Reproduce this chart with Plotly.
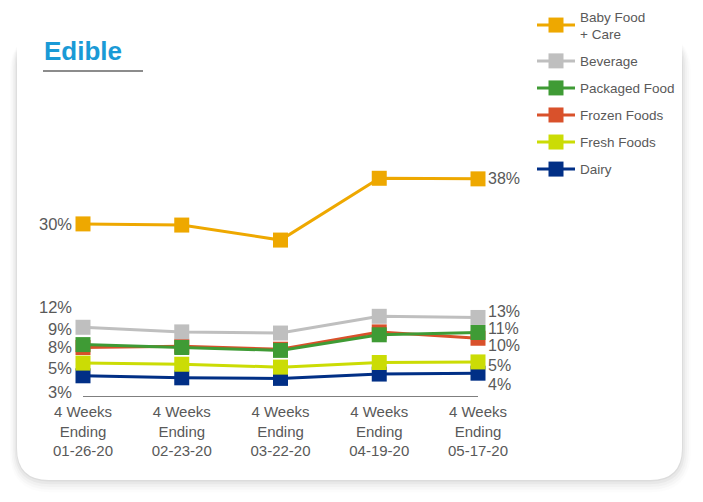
import plotly.graph_objects as go

# ---------------- data ----------------
categories = ["4 Weeks<br>Ending<br>01-26-20", "4 Weeks<br>Ending<br>02-23-20",
              "4 Weeks<br>Ending<br>03-22-20", "4 Weeks<br>Ending<br>04-19-20",
              "4 Weeks<br>Ending<br>05-17-20"]

baby_food = [29.8, 29.6, 27.0, 37.7, 37.6]
beverage = [11.9, 11.1, 10.9, 13.8, 13.6]
packaged_food = [8.9, 8.4, 7.9, 10.6, 11.0]
frozen_foods = [8.4, 8.6, 8.1, 11.1, 10.0]
fresh_foods = [5.7, 5.5, 5.0, 5.8, 5.9]
dairy = [3.5, 3.15, 3.05, 3.8, 3.95]

first_labels = {"Baby Food<br>+ Care": "30%", "Beverage": "12%", "Packaged Food": "9%",
                "Frozen Foods": "8%", "Fresh Foods": "5%", "Dairy": "3%"}
last_labels = {"Baby Food<br>+ Care": "38%", "Beverage": "13%", "Packaged Food": "11%",
               "Frozen Foods": "10%", "Fresh Foods": "5%", "Dairy": "4%"}

# ---------------- style ----------------
series = [  # drawn bottom -> top: (name, values, colour, left shift, right shift, legend rank)
    ("Dairy", dairy, "#012F86", -16, -11, 6),
    ("Fresh Foods", fresh_foods, "#CBDC05", -5, -4, 5),
    ("Frozen Foods", frozen_foods, "#D9512B", 0, -7, 4),
    ("Packaged Food", packaged_food, "#3F9B35", 16, 4, 3),
    ("Beverage", beverage, "#BFBFBF", 20, 6, 2),
    ("Baby Food<br>+ Care", baby_food, "#EEA800", 0, 0, 1),
]

W, H = 703, 502
L, R, T, B = 83, 478, 165, 396
LABEL = "#595959"
FONT = "Liberation Sans, Arial, sans-serif"


def px(x):
    return (x - L) / (R - L)


def py(y):
    return (B - y) / (B - T)


def rrect(x0, y0, x1, y1, r):
    pts = [
        ("M", (x0 + r, y0)), ("L", (x1 - r, y0)), ("Q", (x1, y0), (x1, y0 + r)),
        ("L", (x1, y1 - r)), ("Q", (x1, y1), (x1 - r, y1)),
        ("L", (x0 + r, y1)), ("Q", (x0, y1), (x0, y1 - r)),
        ("L", (x0, y0 + r)), ("Q", (x0, y0), (x0 + r, y0)),
    ]
    s = ""
    for p in pts:
        s += p[0] + " ".join(f"{px(a):.5f},{py(b):.5f}" for a, b in p[1:]) + " "
    return s + "Z"


fig = go.Figure()

for name, vals, color, lshift, rshift, rank in series:
    fig.add_trace(go.Scatter(
        x=categories, y=vals, name=name, mode="lines+markers",
        line=dict(color=color, width=3),
        marker=dict(symbol="square", size=15, color=color, line=dict(width=0)),
        legendgroup=name, legendrank=rank, cliponaxis=False, hoverinfo="skip",
    ))
    fig.add_annotation(x=categories[0], y=vals[0], text=first_labels[name],
                       xanchor="right", yanchor="middle", xshift=-9, yshift=lshift,
                       showarrow=False, font=dict(size=16.5, color=LABEL, family=FONT))
    fig.add_annotation(x=categories[-1], y=vals[-1], text=last_labels[name],
                       xanchor="left", yanchor="middle", xshift=8, yshift=rshift,
                       showarrow=False, font=dict(size=16, color=LABEL, family=FONT))

# card with shadow (shadow mostly to the sides and bottom)
CX0, CY0, CX1, CY1, CR = 17, 14, 682, 480, 32
shapes = []
for k, op in [(9, 0.012), (7, 0.018), (5, 0.025), (3, 0.035), (1, 0.05)]:
    shapes.append(dict(type="path", xref="paper", yref="paper", layer="below",
                       path=rrect(CX0 - k * 0.8, CY0 + 18, CX1 + k, CY1 + k * 1.4, CR + k),
                       fillcolor=f"rgba(0,0,0,{op})", line=dict(width=0)))
shapes.append(dict(type="path", xref="paper", yref="paper", layer="below",
                   path=rrect(CX0, CY0, CX1, CY1, CR), fillcolor="white", line=dict(width=0)))
# title underline
shapes.append(dict(type="line", xref="paper", yref="paper", x0=px(43), x1=px(143),
                   y0=py(71), y1=py(71), line=dict(color="#8C8C8C", width=2)))

fig.add_annotation(xref="paper", yref="paper", x=px(42), y=py(51), text="<b>Edible</b>",
                   xanchor="left", yanchor="middle", showarrow=False,
                   font=dict(size=26, color="#1A9AD6", family=FONT))

fig.update_layout(
    width=W, height=H,
    margin=dict(l=L, r=W - R, t=T, b=H - B, pad=0, autoexpand=False),
    paper_bgcolor="white", plot_bgcolor="rgba(0,0,0,0)",
    shapes=shapes,
    showlegend=True,
    legend=dict(xref="container", yref="container", x=532 / W, y=1 - 1 / H,
                xanchor="left", yanchor="top",
                traceorder="grouped", tracegroupgap=6.5, itemwidth=38,
                font=dict(size=13.5, color=LABEL, family=FONT), bgcolor="rgba(0,0,0,0)"),
    xaxis=dict(type="category", range=[0, 4], showgrid=False, zeroline=False,
               showline=True, linecolor="#7F7F7F", linewidth=1, ticks="",
               tickfont=dict(size=15, color=LABEL, family=FONT), ticklabelstandoff=2),
    yaxis=dict(range=[0, 40], showgrid=False, zeroline=False, showline=False,
               showticklabels=False, ticks=""),
)

fig.write_html("out.html")
